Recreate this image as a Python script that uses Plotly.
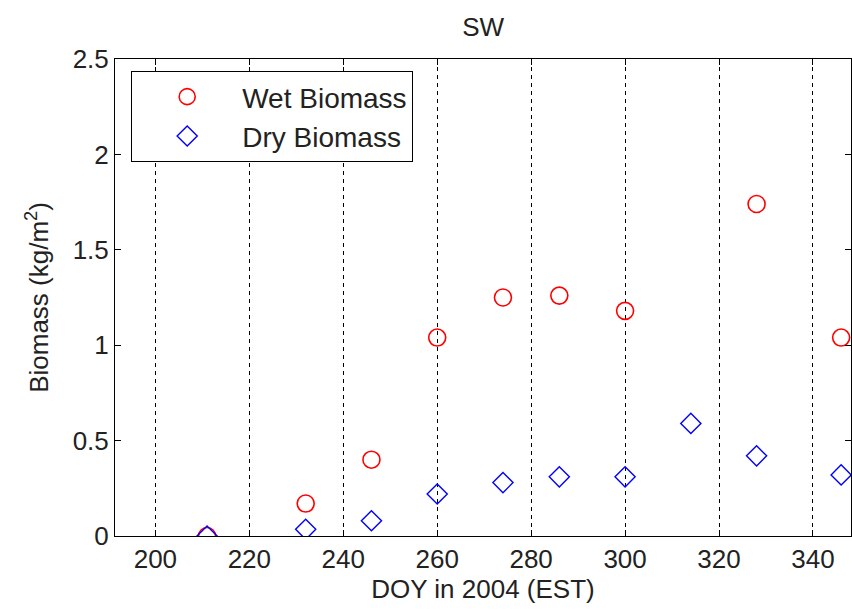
import plotly.graph_objects as go

# Day of year (2004) for each sampling date
doy_wet = [211, 232, 246, 260, 274, 286, 300, 328, 346]
wet_biomass = [0.0, 0.17, 0.40, 1.04, 1.25, 1.26, 1.18, 1.74, 1.04]

doy_dry = [211, 232, 246, 260, 274, 286, 300, 314, 328, 346]
dry_biomass = [0.0, 0.035, 0.08, 0.22, 0.28, 0.31, 0.31, 0.59, 0.42, 0.32]

x_ticks = [200, 220, 240, 260, 280, 300, 320, 340]
y_ticks = [0, 0.5, 1, 1.5, 2, 2.5]
y_tick_text = ["0", "0.5", "1", "1.5", "2", "2.5"]

FONT = "Liberation Sans, Arial, sans-serif"
TEXT_COLOR = "#222"

fig = go.Figure()
fig.add_trace(go.Scatter(
    x=doy_wet, y=wet_biomass, mode="markers", name="Wet Biomass",
    legendgroup="wet",
    marker=dict(symbol="circle-open", size=17, color="red",
                line=dict(color="red", width=1.6)),
))
fig.add_trace(go.Scatter(
    x=doy_dry, y=dry_biomass, mode="markers", name="Dry Biomass",
    legendgroup="dry",
    marker=dict(symbol="diamond-open", size=15.5, color="blue",
                line=dict(color="blue", width=1.4)),
))

axis_common = dict(
    showline=True, linecolor="black", linewidth=1, mirror="ticks",
    ticks="inside", ticklen=6, tickcolor="black", tickwidth=1,
    zeroline=False,
    tickfont=dict(family=FONT, size=26, color=TEXT_COLOR),
)

fig.update_xaxes(
    range=[191.4, 348.1], tickvals=x_ticks,
    showgrid=True, gridcolor="black", gridwidth=1.3, griddash="4px,4px",
    title=dict(text="DOY in 2004 (EST)",
               font=dict(family=FONT, size=26, color=TEXT_COLOR),
               standoff=6),
    **axis_common,
)
fig.update_yaxes(
    range=[0, 2.5], tickvals=y_ticks, ticktext=y_tick_text,
    showgrid=False,
    title=dict(text="Biomass (kg/m<sup>2</sup>)",
               font=dict(family=FONT, size=26, color=TEXT_COLOR),
               standoff=16),
    **axis_common,
)

fig.update_layout(
    width=852, height=615,
    margin=dict(l=115, r=1, t=59, b=79),
    paper_bgcolor="white", plot_bgcolor="white",
    title=dict(text="SW", x=0.567, xanchor="center", y=0.956, yanchor="middle",
               font=dict(family=FONT, size=26, color=TEXT_COLOR)),
    showlegend=True,
    legend=dict(
        x=0.022, y=0.975, xanchor="left", yanchor="top",
        bgcolor="white", bordercolor="black", borderwidth=1,
        font=dict(family=FONT, size=28, color=TEXT_COLOR),
        itemwidth=100, traceorder="grouped", tracegroupgap=0,
    ),
)

fig.write_html("out.html")
